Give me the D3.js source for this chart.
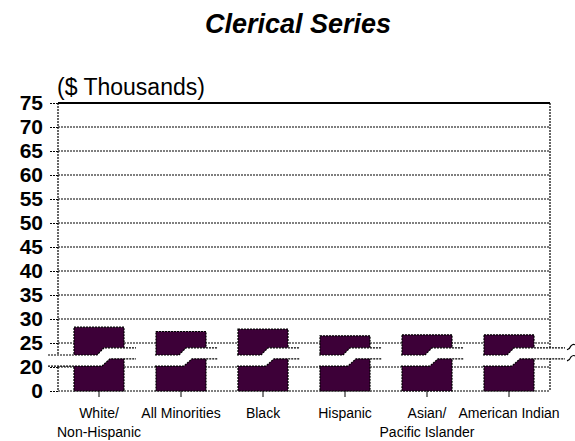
<!DOCTYPE html>
<html>
<head>
<meta charset="utf-8">
<script src="https://cdn.jsdelivr.net/npm/d3@7"></script>
<style>
body { margin: 0; background: #fff; }
text { font-family: Arial, "Liberation Sans", sans-serif; fill: #000; }
</style>
</head>
<body>
<svg id="chart" width="575" height="441"></svg>
<script>
// chart data
var categories = ["White/\nNon-Hispanic", "All Minorities", "Black", "Hispanic", "Asian/\nPacific Islander", "American Indian"];
var salaries = [28.3, 27.4, 27.9, 26.5, 26.7, 26.7];
var yTicks = [0, 20, 25, 30, 35, 40, 45, 50, 55, 60, 65, 70, 75];
// axis break (values in $ thousands, left and right side of the step)
var breakBottom = [20.2, 21.7];
var breakTop = [22.5, 24];

var svg = d3.select("#chart");
var margin = { top: 103, right: 25, bottom: 50, left: 58 };
var width = 575 - margin.left - margin.right;
var height = 441 - margin.top - margin.bottom;
var barColor = "#3d0038";
var dots = "2,1";

svg.append("text")
	.attr("x", 298)
	.attr("y", 33)
	.attr("text-anchor", "middle")
	.style("font-size", "27px")
	.style("font-weight", "bold")
	.style("font-style", "italic")
	.text("Clerical Series");

svg.append("text")
	.attr("x", 57)
	.attr("y", 95)
	.style("font-size", "23px")
	.text("($ Thousands)");

var g = svg.append("g")
	.attr("transform", "translate(" + margin.left + "," + margin.top + ")");

var x = d3.scaleBand()
	.domain(categories)
	.range([0, width])
	.paddingInner(0.39)
	.paddingOuter(0.195);

// broken axis: 0..20 squeezed into the space of 5
var y = d3.scaleLinear()
	.domain([0, 20, 75])
	.range([height, height - 24, 0]);

// grid lines
g.selectAll(".grid")
	.data(yTicks.filter(function(d) { return d != 75; }))
	.enter().append("line")
	.attr("class", "grid")
	.attr("x1", 0)
	.attr("x2", width)
	.attr("y1", function(d) { return y(d); })
	.attr("y2", function(d) { return y(d); })
	.attr("stroke", "#000")
	.attr("stroke-width", 1.2)
	.attr("stroke-dasharray", dots);

g.append("line")
	.attr("x1", 0)
	.attr("x2", width)
	.attr("y1", y(75))
	.attr("y2", y(75))
	.attr("stroke", "#000")
	.attr("stroke-width", 2);

// left and right frame
[0, width].forEach(function(xx) {
	g.append("line")
		.attr("x1", xx)
		.attr("x2", xx)
		.attr("y1", y(75))
		.attr("y2", y(0))
		.attr("stroke", "#000")
		.attr("stroke-width", 1.2)
		.attr("stroke-dasharray", dots);
});

var yAxis = g.append("g")
	.call(d3.axisLeft(y).tickValues(yTicks).tickSize(8).tickPadding(7));
yAxis.select(".domain").remove();
yAxis.selectAll("line")
	.attr("stroke-width", 1.2)
	.attr("stroke-dasharray", dots);
yAxis.selectAll("text")
	.style("font-size", "21px")
	.style("font-weight", "bold")
	.style("font-family", "Arial, 'Liberation Sans', sans-serif");

var xAxis = g.append("g")
	.attr("transform", "translate(0," + height + ")")
	.call(d3.axisBottom(x).tickSize(6).tickFormat(""));
xAxis.select(".domain").remove();

xAxis.selectAll(".tick").each(function(d) {
	var t = d3.select(this).append("text")
		.attr("y", 27)
		.attr("text-anchor", "middle")
		.style("font-size", "14px");
	d.split("\n").forEach(function(line, i) {
		t.append("tspan")
			.attr("x", 0)
			.attr("dy", i == 0 ? 0 : 19)
			.text(line);
	});
});

// bars
g.selectAll(".bar")
	.data(salaries)
	.enter().append("rect")
	.attr("class", "bar")
	.attr("x", function(d, i) { return x(categories[i]); })
	.attr("y", function(d) { return y(d); })
	.attr("width", x.bandwidth())
	.attr("height", function(d) { return y(0) - y(d); })
	.attr("fill", barColor)
	.attr("stroke", "#000")
	.attr("stroke-width", 1.2)
	.attr("stroke-dasharray", dots);

// break marks through each bar
var bw = x.bandwidth();
categories.forEach(function(c, i) {
	var x0 = x(c), x1 = x0 + bw;
	var left = i == 0 ? -10 : x0 - 1;
	var right = i == categories.length - 1 ? width + 15 : x1 + 12;
	var topEdge = [[left, y(breakTop[0])], [x0 + 0.46 * bw, y(breakTop[0])], [x0 + 0.6 * bw, y(breakTop[1])], [right, y(breakTop[1])]];
	var botEdge = [[left, y(breakBottom[0])], [x0 + 0.56 * bw, y(breakBottom[0])], [x0 + 0.72 * bw, y(breakBottom[1])], [right, y(breakBottom[1])]];
	var poly = topEdge.concat(botEdge.slice().reverse());
	g.append("path")
		.attr("d", d3.line()(poly) + "Z")
		.attr("fill", "#fff");
	[topEdge, botEdge].forEach(function(edge) {
		g.append("path")
			.attr("d", d3.line()(edge))
			.attr("fill", "none")
			.attr("stroke", "#000")
			.attr("stroke-width", 1.2)
			.attr("stroke-dasharray", dots);
	});
	if (i == categories.length - 1) {
		// little squiggles at the right end
		[breakTop[1], breakBottom[1]].forEach(function(v) {
			var yy = y(v);
			g.append("path")
				.attr("d", "M" + (right + 2) + "," + (yy + 2) + " q3,-1 4,-4 q2,-2 4,-1")
				.attr("fill", "none")
				.attr("stroke", "#000")
				.attr("stroke-width", 1.2);
		});
	}
});
</script>
</body>
</html>
